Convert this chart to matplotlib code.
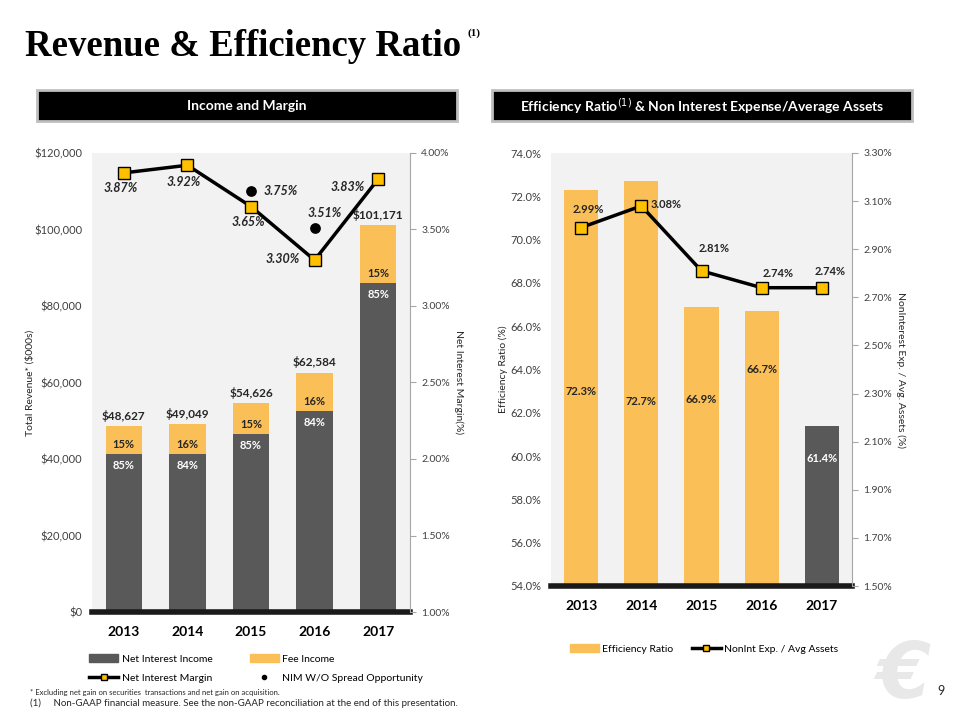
import matplotlib
matplotlib.use("Agg")
import matplotlib.pyplot as plt
from matplotlib.patches import Rectangle, Patch
from matplotlib.lines import Line2D

# data
years = ["2013", "2014", "2015", "2016", "2017"]
total_rev = [48627, 49049, 54626, 62584, 101171]
nii = [41333, 41201, 46432, 52571, 85995]
fee = [7294, 7848, 8194, 10013, 15176]
nii_pct = ["85%", "84%", "85%", "84%", "85%"]
fee_pct = ["15%", "16%", "15%", "16%", "15%"]
nim = [3.87, 3.92, 3.65, 3.30, 3.83]
nim_wo_years = [2, 3]
nim_wo = [3.75, 3.51]

eff_ratio = [72.3, 72.7, 66.9, 66.7, 61.4]
nonint_exp = [2.99, 3.08, 2.81, 2.74, 2.74]

ORANGE = "#FBBF57"
DARK = "#595959"
BG = "#F2F2F2"
TXT = "#404040"
FONT = "Lato"

plt.rcParams["font.family"] = [FONT, "DejaVu Sans"]

fig = plt.figure(figsize=(9.6, 7.2), dpi=100)


def px(x0, y0, x1, y1):
    return [x0 / 960, 1 - y1 / 720, (x1 - x0) / 960, (y1 - y0) / 720]


# watermark logo (drawn first so it sits behind everything)
fig.text(903 / 960, 1 - 676 / 720, "\u20ac", fontsize=56, color="#E8E8E8",
         style="italic", fontweight="bold", ha="center", va="center",
         family="DejaVu Sans", zorder=0)

# title
title = fig.text(25 / 960, 1 - 46 / 720, "Revenue & Efficiency Ratio", fontsize=26.5,
                 fontweight="bold", family="Liberation Serif", va="center", ha="left")
fig.canvas.draw()
tb = title.get_window_extent()
fig.text((tb.x1 + 6) / 960, 1 - 33 / 720, "(1)", fontsize=8, fontweight="bold",
         family="Liberation Serif", va="center", ha="left")

# header boxes
for (x0, x1, label) in [(37, 457, "Income and Margin"),
                        (492, 912, r"Efficiency Ratio$^{(1)}$ & Non Interest Expense/Average Assets")]:
    fig.patches.append(Rectangle((x0 / 960, 1 - 121 / 720), (x1 - x0) / 960, 31 / 720,
                                 transform=fig.transFigure, facecolor="black",
                                 edgecolor="#BFBFBF", lw=2))
    fig.text((x0 + x1) / 2 / 960, 1 - 106 / 720, label, color="white", fontsize=10,
             fontweight="bold", ha="center", va="center")


def style_axes(ax, ax2):
    ax.set_facecolor(BG)
    for s in ax.spines.values():
        s.set_visible(False)
    for s in ["top", "left", "bottom"]:
        ax2.spines[s].set_visible(False)
    ax2.spines["right"].set_color("#A6A6A6")
    ax2.spines["right"].set_linewidth(0.8)
    ax.tick_params(axis="y", length=0, labelsize=8, labelcolor=TXT, pad=7)
    ax.tick_params(axis="x", length=0, labelsize=10, pad=10)
    for t in ax.get_xticklabels():
        t.set_fontweight("bold")
    ax2.tick_params(axis="y", length=4, width=0.8, color="#A6A6A6", labelsize=7.5,
                    labelcolor=TXT, pad=4)
    ax.axhline(ax.get_ylim()[0], color="#1A1A1A", lw=4, zorder=5, clip_on=False)


# ---------------- left chart ----------------
ax = fig.add_axes(px(92, 153, 410, 612))
x = list(range(len(years)))
ax.bar(x, nii, width=0.57, color=DARK, zorder=2)
ax.bar(x, fee, bottom=nii, width=0.57, color=ORANGE, zorder=2)
ax.set_xlim(-0.5, 4.5)
ax.set_ylim(0, 120000)
ax.set_yticks(range(0, 120001, 20000))
ax.set_yticklabels(["${:,}".format(v) for v in range(0, 120001, 20000)])
ax.set_xticks(x)
ax.set_xticklabels(years)
ax.set_ylabel("Total Revenue* ($000s)", fontsize=7.5, color="#262626", labelpad=0)

for i in x:
    ax.annotate("${:,}".format(total_rev[i]), (i, total_rev[i]), xytext=(0, 3),
                textcoords="offset points", ha="center", va="bottom", fontsize=8.5,
                fontweight="bold", color="#262626")
    ax.annotate(fee_pct[i], (i, nii[i]), xytext=(0, 7), textcoords="offset points",
                ha="center", va="center", fontsize=8, fontweight="bold", color="#262626")
    ax.annotate(nii_pct[i], (i, nii[i]), xytext=(0, -8), textcoords="offset points",
                ha="center", va="center", fontsize=8, fontweight="bold", color="white")

ax2 = ax.twinx()
ax2.plot(x, nim, color="black", lw=2.5, marker="s", markersize=8,
         markerfacecolor="#FFC000", markeredgecolor="black", markeredgewidth=1, zorder=4)
ax2.scatter(nim_wo_years, nim_wo, s=45, color="black", zorder=4)
ax2.set_ylim(1.0, 4.0)
ax2.set_yticks([1.0, 1.5, 2.0, 2.5, 3.0, 3.5, 4.0])
ax2.set_yticklabels(["{:.2f}%".format(v) for v in [1.0, 1.5, 2.0, 2.5, 3.0, 3.5, 4.0]])
ax2.set_ylabel("Net Interest Margin(%)", fontsize=7.5, rotation=270, color="#262626",
               labelpad=10)
style_axes(ax, ax2)

nim_off = [(-2, -11), (-3, -12), (-2, -11), (-23, 1), (-22, -6)]
for i in x:
    ax2.annotate("{:.2f}%".format(nim[i]), (i, nim[i]), xytext=nim_off[i],
                 textcoords="offset points", ha="center", va="center", fontsize=9,
                 fontweight="bold", style="italic", color="#262626")
wo_off = [(21, 0), (7, 11)]
for j, i in enumerate(nim_wo_years):
    ax2.annotate("{:.2f}%".format(nim_wo[j]), (i, nim_wo[j]), xytext=wo_off[j],
                 textcoords="offset points", ha="center", va="center", fontsize=9,
                 fontweight="bold", style="italic", color="#262626")

h_left = [Patch(color=DARK), Line2D([], [], color="black", lw=2.5, marker="s",
                                     markersize=5, markerfacecolor="#FFC000"),
          Patch(color=ORANGE), Line2D([], [], ls="none", marker="o", markersize=3,
                                      color="black")]
l_left = ["Net Interest Income", "Net Interest Margin", "Fee Income",
          "NIM W/O Spread Opportunity"]
fig.legend(h_left, l_left, ncol=2, loc="upper left", bbox_to_anchor=(84 / 960, 1 - 649 / 720),
           frameon=False, fontsize=7.5, handlelength=2.8, handletextpad=0.3,
           columnspacing=3.6, labelspacing=0.95, borderpad=0)

# ---------------- right chart ----------------
bx = fig.add_axes(px(551, 153, 852, 586))
bar_colors = [ORANGE] * 4 + [DARK]
bx.bar(x, eff_ratio, width=0.57, color=bar_colors, zorder=2)
bx.set_xlim(-0.5, 4.5)
bx.set_ylim(54, 74)
bx.set_yticks(range(54, 75, 2))
bx.set_yticklabels(["{:.1f}%".format(v) for v in range(54, 75, 2)])
bx.set_xticks(x)
bx.set_xticklabels(years)
bx.set_ylabel("Efficiency Ratio (%)", fontsize=7.5, color="#262626", labelpad=2)

lab_y = [63.0, 62.5, 62.6, 64.0, 59.9]
for i in x:
    bx.text(i, lab_y[i], "{:.1f}%".format(eff_ratio[i]), ha="center", va="center",
            fontsize=8, fontweight="bold", color="white" if i == 4 else "#262626",
            zorder=3)

bx2 = bx.twinx()
bx2.plot(x, nonint_exp, color="black", lw=2.5, marker="s", markersize=8,
         markerfacecolor="#FFC000", markeredgecolor="black", markeredgewidth=1, zorder=4)
bx2.set_ylim(1.5, 3.3)
r_ticks = [1.5, 1.7, 1.9, 2.1, 2.3, 2.5, 2.7, 2.9, 3.1, 3.3]
bx2.set_yticks(r_ticks)
bx2.set_yticklabels(["{:.2f}%".format(v) for v in r_ticks])
bx2.set_ylabel("NonInterest Exp. / Avg. Assets (%)", fontsize=7.5, rotation=270,
               color="#262626", labelpad=10)
style_axes(bx, bx2)

ne_off = [(5, 13), (18, 1), (9, 16), (12, 10), (6, 12)]
for i in x:
    bx2.annotate("{:.2f}%".format(nonint_exp[i]), (i, nonint_exp[i]), xytext=ne_off[i],
                 textcoords="offset points", ha="center", va="center", fontsize=8,
                 fontweight="bold", color="#262626")

h_right = [Patch(color=ORANGE), Line2D([], [], color="black", lw=2.5, marker="s",
                                       markersize=5, markerfacecolor="#FFC000")]
fig.legend(h_right, ["Efficiency Ratio", "NonInt Exp. / Avg Assets"], ncol=2,
           loc="center", bbox_to_anchor=(704 / 960, 1 - 649 / 720), frameon=False,
           fontsize=7.5, handlelength=2.8, handletextpad=0.3, columnspacing=1.8)

# footnotes, page number
fig.text(30 / 960, 1 - 692 / 720,
         "* Excluding net gain on securities  transactions and net gain on acquisition.",
         fontsize=5.5, color="#262626", va="center")
fig.text(30 / 960, 1 - 703 / 720,
         "(1)     Non-GAAP financial measure. See the non-GAAP reconciliation at the end of this presentation.",
         fontsize=7, color="#262626", va="center")
fig.text(941 / 960, 1 - 691 / 720, "9", fontsize=9, color="#262626", ha="center",
         va="center")

fig.savefig("out.png", dpi=100)
